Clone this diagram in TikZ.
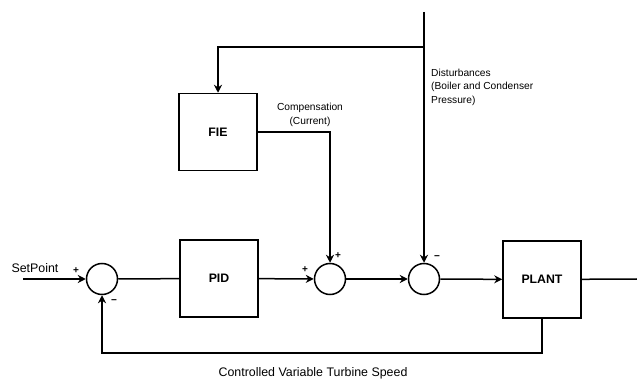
\documentclass[tikz,border=0pt]{standalone}
\usepackage{fontspec}
\setmainfont{Liberation Sans}
\usetikzlibrary{positioning,arrows.meta,calc}
\tikzset{
 blk/.style={draw, line width=1.5pt, minimum width=78pt, minimum height=77pt, inner sep=0pt, font=\bfseries\fontsize{12.3}{14}\selectfont},
 sumpt/.style={draw, circle, line width=1.5pt, minimum size=31pt, inner sep=0pt},
 sig/.style={line width=1.5pt},
 arr/.style={sig, -{Stealth[length=8pt,width=8pt]}},
 lbl/.style={inner sep=0pt, font=\fontsize{10.2}{13.8}\selectfont},
 biglbl/.style={inner sep=0pt, font=\fontsize{12.4}{14}\selectfont},
 sgn/.style={inner sep=0pt, font=\bfseries\fontsize{10}{10}\selectfont}
}
\begin{document}
\begin{tikzpicture}[x=1pt, y=-1pt]
\useasboundingbox (0,0) rectangle (637,379);
% blocks and summing points
\node[sumpt] (sum1) at (102,279) {};
\node[blk] (pid) at (219,278.5) {PID};
\node[sumpt] (sum2) at (330,279) {};
\node[sumpt] (sum3) at (424,279) {};
\node[blk] (plant) at (542,279.5) {PLANT};
\node[blk] (fie) at (218,132) {FIE};
% free ends
\coordinate (spin) at (23,279);
\coordinate (yout) at (637,279);
\coordinate (dtop) at (424,12);
\coordinate (dsplit) at (424,47);
\coordinate (fbl) at (102,353);
% connectors
\draw[arr] (spin) -- (sum1);
\draw[sig] (sum1) -- (pid);
\draw[arr] (pid) -- (sum2);
\draw[arr] (sum2) -- (sum3);
\draw[arr] (sum3) -- (plant);
\draw[sig] (plant) -- (yout);
\draw[arr] (plant.south) |- (fbl) -- (sum1.south);
\draw[arr] (dtop) -- (sum3.north);
\draw[arr] (dsplit) -| (fie.north);
\draw[arr] (fie.east) -| (sum2.north);
% texts
\node[biglbl] (sptxt) at (35,268) {SetPoint};
\node[lbl, align=center] (comptxt) at (310,115) {Compensation\\(Current)};
\node[lbl, align=left, anchor=north west] (disttxt) at (431,68.5) {Disturbances\\(Boiler and Condenser\\Pressure)};
\node[biglbl] (cvtxt) at (313,373) {Controlled Variable Turbine Speed};
% signs
\node[sgn] (s1p) at (76,271) {+};
\node[sgn] (s1m) at (114,302) {−};
\node[sgn] (s2p) at (305,270) {+};
\node[sgn] (s2q) at (338,256) {+};
\node[sgn] (s3m) at (437,258) {−};
\end{tikzpicture}
\end{document}
